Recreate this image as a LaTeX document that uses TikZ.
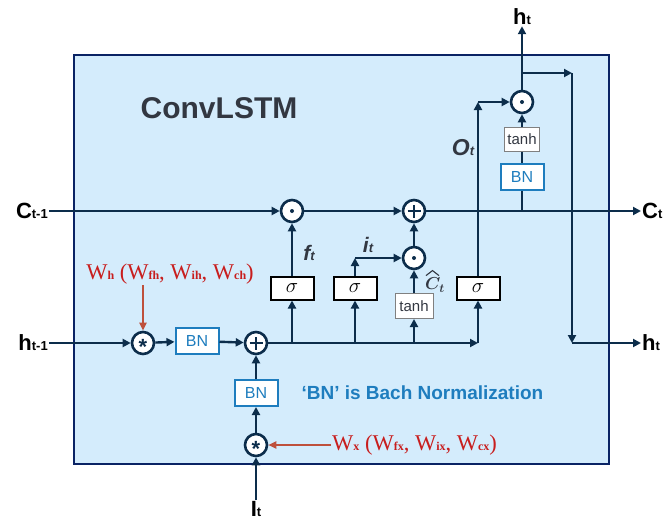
\documentclass[tikz,border=0pt]{standalone}
\usepackage{bm}
\usepackage{fontspec}
\setmainfont{Liberation Sans}
\newfontfamily\timesfont{Liberation Serif}
\usetikzlibrary{arrows.meta,positioning}

\definecolor{cellfill}{RGB}{212,236,252}
\definecolor{cellline}{RGB}{10,35,100}
\definecolor{flowc}{RGB}{12,45,75}
\definecolor{bnblue}{RGB}{30,125,190}
\definecolor{redtxt}{RGB}{200,30,30}
\definecolor{redarr}{RGB}{190,80,60}
\definecolor{lblgray}{RGB}{50,55,65}

\newcommand\iolbl[2]{{\fontsize{22}{22}\selectfont\bfseries #1}{\fontsize{13}{13}\selectfont\bfseries #2}}
\newcommand\wsub[1]{{\fontsize{12}{12}\selectfont\bfseries #1}}

\begin{document}
\begin{tikzpicture}[x=1pt,y=-1pt,
  flow/.style={draw=flowc,line width=2.4pt},
  flowarrow/.style={flow,-{Triangle[length=8pt,width=8pt]}},
  redarrow/.style={draw=redarr,line width=1.8pt,-{Triangle[length=8pt,width=7pt]}},
  opcirc/.style={circle,draw=flowc,line width=2.6pt,fill=white,minimum size=22pt,inner sep=0pt},
  sigbox/.style={draw=black,line width=2pt,fill=white,minimum width=43pt,minimum height=23pt,inner sep=0pt},
  bnbox/.style={draw=bnblue,line width=2pt,fill=white,text=bnblue,minimum width=43pt,minimum height=26pt,inner sep=0pt,font=\fontsize{16}{16}\selectfont},
  tanhbox/.style={draw=gray,line width=1pt,fill=white,text=lblgray,minimum width=38pt,minimum height=25pt,inner sep=0pt,font=\fontsize{15}{15}\selectfont},
  redlbl/.style={text=redtxt,inner sep=1pt,font=\timesfont\fontsize{22.5}{22.5}\selectfont},
  gatelbl/.style={text=lblgray,inner sep=0pt,font=\bfseries\itshape}]
\useasboundingbox (0,0) rectangle (665,523);

% cell frame
\fill[cellfill,draw=cellline,line width=2.8pt] (74,55) rectangle (609,464);
\node[text=lblgray,font=\fontsize{30}{30}\selectfont\bfseries] (title) at (219,108) {ConvLSTM};

% operators and gates
\node[opcirc] (convh) at (143,343) {};
\node[bnbox]  (bnh)   at (197,341) {BN};
\node[opcirc] (addx)  at (256,343) {};
\node[bnbox]  (bnx)   at (256,393) {BN};
\node[opcirc] (convx) at (256,445) {};
\node[opcirc] (dotf)  at (292,211) {};
\node[opcirc] (addc)  at (414,211) {};
\node[opcirc] (doti)  at (414,258) {};
\node[opcirc] (doto)  at (522,102) {};
\foreach \n/\x in {sigf/292,sigi/355,sigo/478}
  \node[sigbox] (\n) at (\x,288) {\fontsize{21}{21}\selectfont$\sigma$};
\node[tanhbox] (tanhc) at (414,306) {tanh};
\node[bnbox]   (bno)   at (522,177) {BN};
\node[tanhbox,minimum width=35pt,minimum height=24pt] (tanho) at (522,139) {tanh};

\foreach \n in {dotf,doti,doto}
  \fill[flowc] (\n) circle (2);
\foreach \n in {addx,addc}
  \draw[flowc,line width=2pt] ([xshift=-6.5pt]\n.center) -- ([xshift=6.5pt]\n.center)
    ([yshift=-6.5pt]\n.center) -- ([yshift=6.5pt]\n.center);
\foreach \n in {convh,convx}
  \node[text=flowc,inner sep=0pt,font=\bfseries\fontsize{22}{22}\selectfont] at ([yshift=-3.5pt]\n.center) {*};

% inputs and outputs
\node[anchor=east,inner sep=1pt] (cin)  at (49,211) {\iolbl{C}{t-1}};
\node[anchor=east,inner sep=1pt] (hin)  at (49,343) {\iolbl{h}{t-1}};
\node[anchor=west,inner sep=1pt] (cout) at (641,211) {\iolbl{C}{t}};
\node[anchor=west,inner sep=1pt] (hout) at (641,343) {\iolbl{h}{t}};
\node[inner sep=1pt] (htop) at (522,17) {\iolbl{h}{t}};
\node[inner sep=1pt] (xin)  at (256,509) {\iolbl{I}{t}};

\coordinate (hend) at (sigo |- addx);
\coordinate (ocorner) at (sigo |- doto);
\coordinate (icorner) at (sigi |- doti);
\coordinate (hbranch) at (522,73);
\coordinate (hcorner) at (572,73);
\coordinate (hdown) at (572,343);

% cell state path
\draw[flowarrow] (cin) -- (dotf);
\draw[flowarrow] (dotf) -- (addc);
\draw[flowarrow] (addc) -- (cout);
% hidden / input path
\draw[flowarrow] (hin) -- (convh);
\draw[flowarrow] (convh) -- (bnh);
\draw[flowarrow] (bnh) -- (addx);
\draw[flowarrow] (xin) -- (convx);
\draw[flowarrow] (convx) -- (bnx);
\draw[flowarrow] (bnx) -- (addx);
\draw[flowarrow] (addx) -- (hend);
\draw[flowarrow] (hend) -- (sigo);
\foreach \n in {sigf,sigi,tanhc}
  \draw[flowarrow] (\n |- addx) -- (\n);
% gates
\draw[flowarrow] (sigf) -- (dotf);
\draw[flowarrow] (sigi) -- (icorner);
\draw[flowarrow] (icorner) -- (doti);
\draw[flowarrow] (tanhc) -- (doti);
\draw[flowarrow] (doti) -- (addc);
\draw[flowarrow] (sigo) -- (ocorner);
\draw[flowarrow] (ocorner) -- (doto);
\draw[flow] (bno |- addc) -- (bno);
\draw[flow] (bno) -- (tanho);
\draw[flowarrow] (tanho) -- (doto);
\draw[flowarrow] (doto) -- (htop);
\draw[flowarrow] (hbranch) -- (hcorner);
\draw[flowarrow] (hcorner) -- (hdown);
\draw[flowarrow] (hdown) -- (hout);

% gate labels
\node[gatelbl] (flbl) at (309,253) {{\fontsize{21}{21}\selectfont f}{\fontsize{13}{13}\selectfont t}};
\node[gatelbl] (ilbl) at (368,245) {{\fontsize{21}{21}\selectfont i}{\fontsize{13}{13}\selectfont t}};
\node[gatelbl] (olbl) at (463,148) {{\fontsize{23}{23}\selectfont O}{\fontsize{13}{13}\selectfont t}};
\node[text=lblgray,inner sep=0pt] (clbl) at (435,285) {\fontsize{18}{18}\selectfont$\bm{C_t}$};
\draw[lblgray,line width=1.1pt] ([shift={(1pt,2pt)}]clbl.north west) -- ([shift={(7.5pt,7pt)}]clbl.north west) -- ([shift={(14pt,2pt)}]clbl.north west);

% weights
\node[redlbl] (wh) at (170,274) {W\wsub{h} (W\wsub{fh}, W\wsub{ih}, W\wsub{ch})};
\node[redlbl,anchor=west] (wx) at (331,445) {W\wsub{x} (W\wsub{fx}, W\wsub{ix}, W\wsub{cx})};
\draw[redarrow] (convh |- wh.south) -- (convh);
\draw[redarrow] (wx.west) -- (convx);

\node[anchor=west,text=bnblue,font=\bfseries\fontsize{19}{19}\selectfont] (note) at (298,393) {‘BN’ is Bach Normalization};
\end{tikzpicture}
\end{document}
